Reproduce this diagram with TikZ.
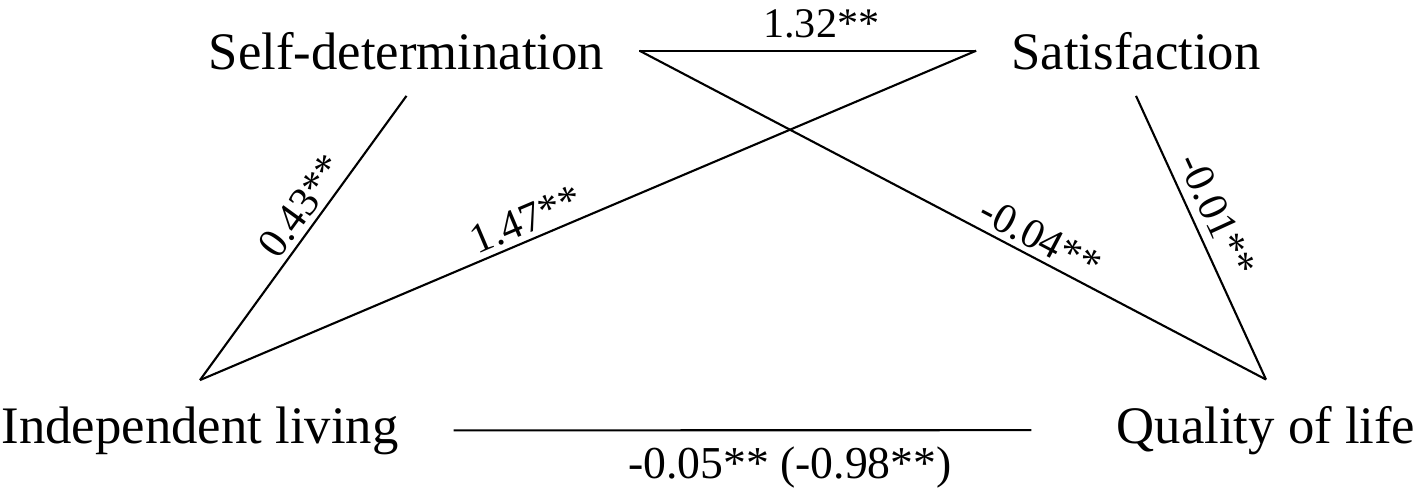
\documentclass[tikz,border=0pt]{standalone}
\usepackage{fontspec}
\setmainfont{Liberation Serif}

\begin{document}
\begin{tikzpicture}[
	var/.style={anchor=base, inner xsep=0.7cm, inner ysep=0.52cm, font=\fontsize{30}{36}\selectfont},
	coef/.style={font=\fontsize{24}{29}\selectfont},
	link/.style={line width=1.2pt}
]
	\useasboundingbox (0,0) rectangle (28.34,-10.04);
	\node[var] (sd) at (8.13,-1.38) {Self-determination};
	\node[var] (sat) at (22.72,-1.38) {Satisfaction};
	\node[var] (il) at (4.00,-8.86) {Independent living};
	\node[var] (qol) at (25.32,-8.86) {Quality of life};
	\draw[link] (sd.east) -- node[coef, above=0.12cm, pos=0.54] (c132) {1.32**} (sat.west);
	\draw[link] (il.north) -- node[coef, sloped, above, inner sep=3pt, pos=0.57] (c043) {0.43**} (sd.south);
	\draw[link] (il.north) -- node[coef, sloped, above, inner sep=3pt, pos=0.43] (c147) {1.47**} (sat.west);
	\draw[link] (sd.east) -- node[coef, sloped, above, inner sep=3pt, pos=0.625] (c004) {-0.04**} (qol.north);
	\draw[link] (sat.south) -- node[coef, sloped, above, inner sep=5pt, pos=0.456] (c001) {-0.01**} (qol.north);
	\draw[link, shorten <=0.4cm, shorten >=1cm] (il.east) -- node[coef, font=\fontsize{26}{31}\selectfont, below=0.2cm, pos=0.55] (c005) {-0.05** (-0.98**)} (qol.west);
\end{tikzpicture}
\end{document}
